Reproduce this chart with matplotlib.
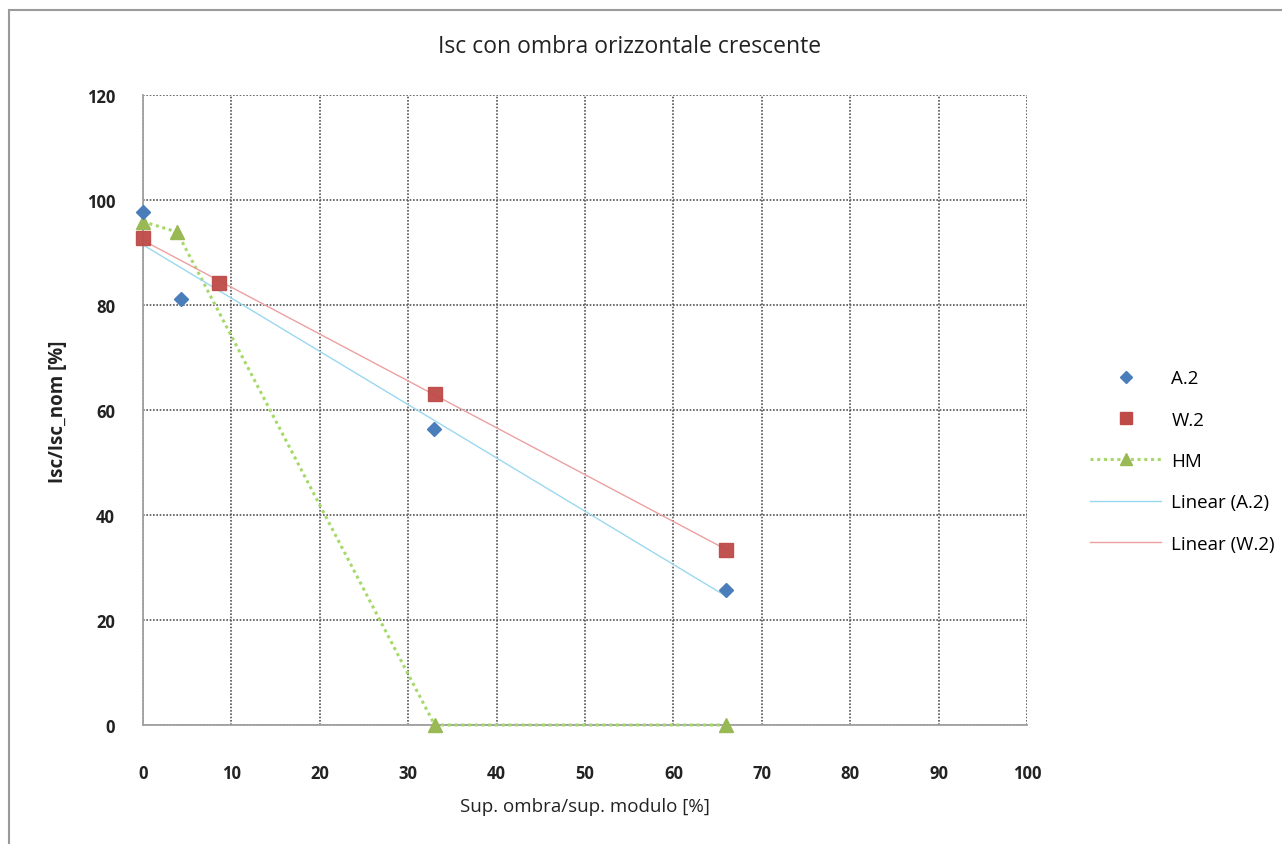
import numpy as np
import matplotlib
matplotlib.use("Agg")
import matplotlib.pyplot as plt
from matplotlib.lines import Line2D
from matplotlib.patches import Rectangle

plt.rcParams['font.family'] = ['Open Sans', 'DejaVu Sans']

title = "Isc con ombra orizzontale crescente"
xlabel = "Sup. ombra/sup. modulo [%]"
ylabel = "Isc/Isc_nom [%]"

a2_x = [0, 4.3, 32.9, 66.0]
a2_y = [97.8, 81.2, 56.4, 25.7]
w2_x = [0, 8.6, 33.0, 66.0]
w2_y = [92.7, 84.1, 63.0, 33.4]
hm_x = [0, 3.85, 33.0, 66.0]
hm_y = [95.9, 93.9, 0.0, 0.0]

xticks = [0, 10, 20, 30, 40, 50, 60, 70, 80, 90, 100]
yticks = [0, 20, 40, 60, 80, 100, 120]

W, H = 1282, 845
fig = plt.figure(figsize=(W / 100, H / 100), dpi=100)
ax = fig.add_axes([143 / W, 1 - 726 / H, (1027 - 143) / W, (726 - 96) / H])

# figure border
fig.patches.append(Rectangle((9 / W, -0.1), 1.2, 1 - 11 / H + 0.1, transform=fig.transFigure,
                             fill=False, edgecolor='#9a9a9a', linewidth=1.5))

blue = '#4a7ebb'
red = '#be4b48'
green = '#98b954'

# trend lines
ca = np.polyfit(a2_x, a2_y, 1)
cw = np.polyfit(w2_x, w2_y, 1)
xa = np.array([min(a2_x), max(a2_x)])
xw = np.array([min(w2_x), max(w2_x)])

ax.plot(hm_x, hm_y, linestyle=(0, (1, 1.2)), color='#a6d96a', linewidth=2.2,
        marker='^', markersize=10, markerfacecolor=green, markeredgecolor=green,
        zorder=3, clip_on=False)
ax.plot(xa, np.polyval(ca, xa), color='#9ad8f0', linewidth=1.0, zorder=3)
ax.plot(xw, np.polyval(cw, xw), color='#eca0a0', linewidth=1.0, zorder=3)
ax.plot(a2_x, a2_y, linestyle='none', marker='D', markersize=7.5, color=blue,
        zorder=4, clip_on=False)
ax.plot(w2_x, w2_y, linestyle='none', marker='s', markersize=10.5, color=red,
        alpha=0.95, zorder=4, clip_on=False)

ax.set_xlim(0, 100)
ax.set_ylim(0, 120)
ax.set_xticks(xticks)
ax.set_yticks(yticks)
ax.grid(True, color='#555555', linestyle=(0, (1, 1)), linewidth=1.2)
ax.set_axisbelow(True)
for s in ['top', 'right']:
    ax.spines[s].set_visible(False)
for s in ['left', 'bottom']:
    ax.spines[s].set_color('#a0a0a0')
    ax.spines[s].set_linewidth(1.3)
ax.tick_params(axis='both', length=0, labelsize=12, colors='#222222')
ax.tick_params(axis='x', pad=28)
ax.tick_params(axis='y', pad=20)
for lab in ax.get_xticklabels() + ax.get_yticklabels():
    lab.set_fontweight('bold')

fig.text(630 / W, 1 - 47 / H, title, ha='center', va='center', fontsize=16.5, color='#222222')
fig.text(585 / W, 1 - 807 / H, xlabel, ha='center', va='center', fontsize=13.5, color='#222222')
fig.text(58 / W, 1 - 412 / H, ylabel, ha='center', va='center', fontsize=13.5,
         rotation=90, color='#222222', fontweight='bold')

handles = [
    Line2D([], [], linestyle='none', marker='D', markersize=6.5, color=blue),
    Line2D([], [], linestyle='none', marker='s', markersize=9, color=red),
    Line2D([], [], linestyle=(0, (1, 1.2)), color='#a6d96a', linewidth=2.2, marker='^',
           markersize=9, markerfacecolor=green, markeredgecolor=green),
    Line2D([], [], color='#9ad8f0', linewidth=1.0),
    Line2D([], [], color='#eca0a0', linewidth=1.0),
]
labels = ['A.2', 'W.2', 'HM', 'Linear (A.2)', 'Linear (W.2)']
fig.legend(handles, labels, loc='center left', bbox_to_anchor=(1073 / W, 1 - 462 / H),
           frameon=False, fontsize=13.5, handlelength=3.8, labelspacing=1.25,
           handletextpad=0.55)

fig.savefig('out.png', dpi=100)
